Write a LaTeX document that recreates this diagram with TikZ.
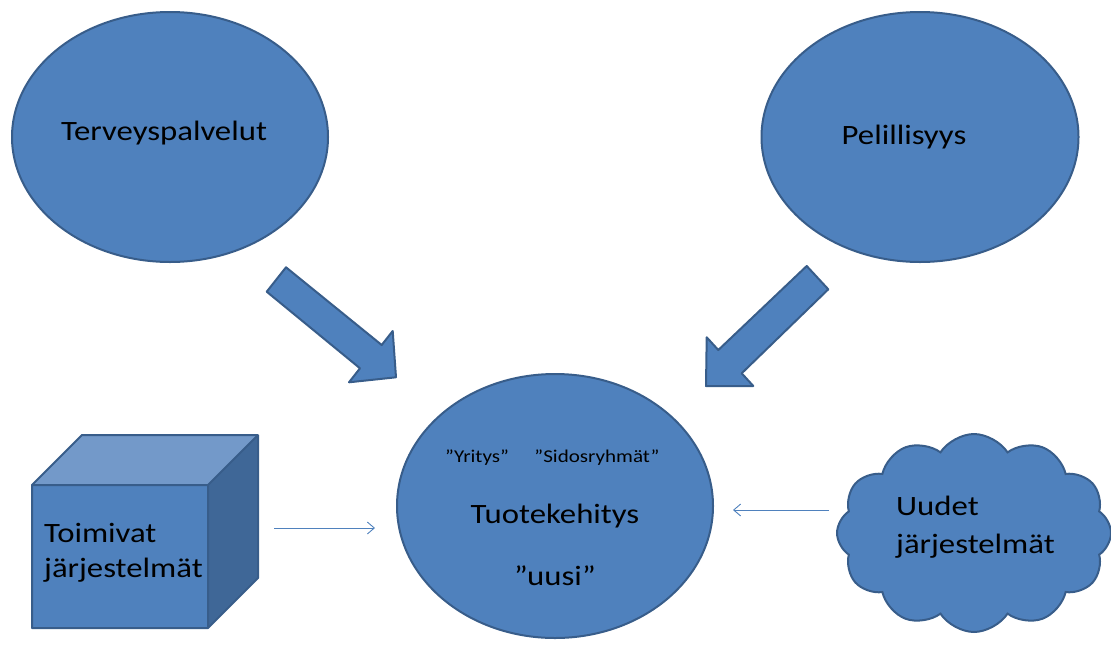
\documentclass[tikz,border=0pt]{standalone}
\usepackage{fontspec}
\setmainfont{Carlito}[FakeStretch=1.17]
\usetikzlibrary{shapes.geometric,shapes.symbols,arrows.meta}
\definecolor{shapefill}{HTML}{4F81BD}
\definecolor{shapeedge}{HTML}{385D8A}
\definecolor{cubetop}{HTML}{7399C9}
\definecolor{cubeside}{HTML}{3F6797}
\tikzset{
  blob/.style={ellipse, fill=shapefill, draw=shapeedge, line width=2pt, inner sep=0pt},
  blockarrow/.style={fill=shapefill, draw=shapeedge, line width=2pt, line join=round},
  cubeface/.style={draw=shapeedge, line width=2pt, line join=round},
  biglabel/.style={font=\fontsize{28}{32}\selectfont, anchor=base, inner sep=0pt},
  smalllabel/.style={font=\fontsize{18}{22}\selectfont, anchor=base, inner sep=0pt},
  leftlabel/.style={font=\fontsize{28}{32}\selectfont, anchor=base west, inner sep=0pt},
  thinarrow/.style={draw=shapefill, line width=0.9pt, -{Straight Barb[length=7pt,width=12pt]}}
}
\begin{document}
\begin{tikzpicture}[x=1pt,y=-1pt]
\useasboundingbox (0,0) rectangle (1111,646);
% ellipses
\node[blob, minimum width=316pt, minimum height=250pt] (terv) at (170,137) {};
\node[blob, minimum width=317pt, minimum height=250pt] (peli) at (920,137) {};
\node[blob, minimum width=316pt, minimum height=264pt] (tuote) at (555,506) {};
\node[biglabel] (tervt) at (164,140) {Terveyspalvelut};
\node[biglabel] (pelit) at (904,144) {Pelillisyys};
\node[smalllabel] (yrit) at (477,462) {”Yritys”};
\node[smalllabel] (sido) at (597,462) {”Sidosryhmät”};
\node[biglabel] (tuotet) at (555,523) {Tuotekehitys};
\node[biglabel] (uusi) at (555,585) {”uusi”};
% block arrows
\draw[blockarrow] (266.7,291.7) -- (286,267.3) -- (381.7,345) -- (392.7,331) -- (396,377.3) -- (349,382.3) -- (360,368.3) -- cycle;
\draw[blockarrow] (806.7,266) -- (828.3,289.3) -- (741.7,373.3) -- (753.3,386) -- (706,386) -- (706.7,337.3) -- (718.3,350) -- cycle;
% cube
\fill[shapefill] (32,485) rectangle (208,628);
\fill[cubetop] (32,485) -- (82,435) -- (258,435) -- (208,485) -- cycle;
\fill[cubeside] (208,485) -- (258,435) -- (258,578) -- (208,628) -- cycle;
\draw[cubeface] (32,485) -- (82,435) -- (258,435) -- (258,578) -- (208,628) -- (32,628) -- cycle;
\draw[cubeface] (32,485) -- (208,485) -- (258,435) (208,485) -- (208,628);
\node[leftlabel] (toim1) at (44,542) {Toimivat};
\node[leftlabel] (toim2) at (44,577) {järjestelmät};
% cloud
\node[cloud, cloud puffs=12, cloud puff arc=115, aspect=1.45, fill=shapefill, draw=shapeedge, line width=2pt, minimum width=274pt, minimum height=198pt, inner sep=0pt] (uudet) at (974,533) {};
\node[leftlabel] (uud1) at (896,515) {Uudet};
\node[leftlabel] (uud2) at (896,553) {järjestelmät};
% thin arrows
\coordinate (la) at (274,528);
\coordinate (lb) at (375,528);
\coordinate (ra) at (829,510);
\coordinate (rb) at (733,510);
\draw[thinarrow] (la) -- (lb);
\draw[thinarrow] (ra) -- (rb);
\end{tikzpicture}
\end{document}
